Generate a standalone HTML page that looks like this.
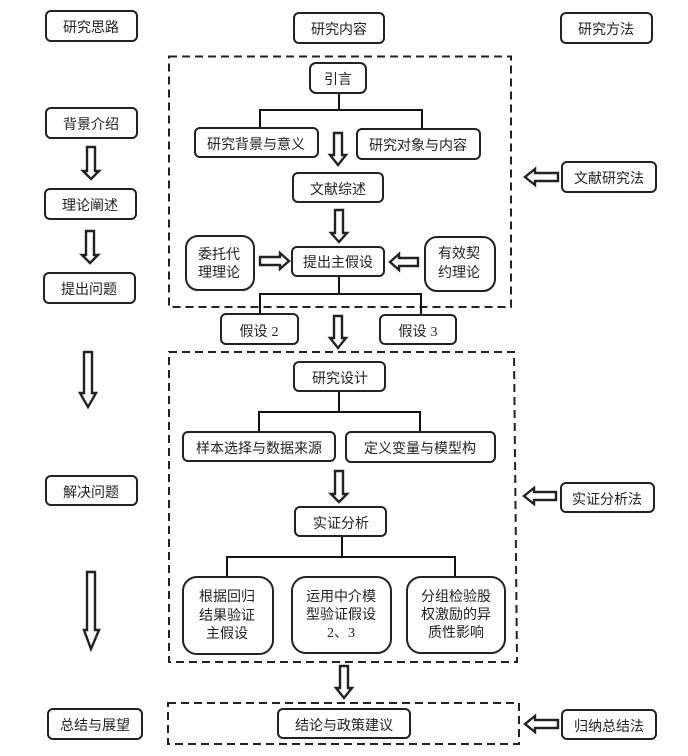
<!DOCTYPE html>
<html lang="zh">
<head>
<meta charset="utf-8">
<style>
html,body{margin:0;padding:0;background:#fff}
svg{display:block}
text{font-family:"Liberation Sans","Noto Sans CJK SC",sans-serif;font-size:14px;fill:#222;text-anchor:middle}
.s{font-family:"Liberation Serif","Noto Sans CJK SC",serif}
.b{fill:#fff;stroke:#222;stroke-width:2}
.c{fill:none;stroke:#111;stroke-width:2}
.d{fill:none;stroke:#222;stroke-width:2;stroke-dasharray:8 5}
.a{fill:#fff;stroke:#222;stroke-width:2.4;stroke-linejoin:miter}
</style>
</head>
<body>
<svg width="688" height="756" viewBox="0 0 688 756" xmlns="http://www.w3.org/2000/svg">
<rect width="688" height="756" fill="#fff"/>

<!-- dashed containers -->
<path class="d" d="M169 56.500H511V307H169Z"/>
<path class="d" d="M169 352H514L517 662H169Z"/>
<path class="d" d="M168 703H519V744H168Z"/>

<!-- connectors -->
<path class="c" d="M339 93V110M260 128V110H422V129"/>
<path class="c" d="M339 276V294M260 314V294H421V315"/>
<path class="c" d="M339 391V412M259 432V412H420V432"/>
<path class="c" d="M342 536V557M227 577V557H455V577"/>

<!-- left column -->
<rect class="b" x="46" y="11" width="91" height="30" rx="5"/><text x="91" y="32">研究思路</text>
<rect class="b" x="46" y="108" width="91" height="30" rx="5"/><text x="91" y="129">背景介绍</text>
<rect class="b" x="45" y="189" width="91" height="30" rx="5"/><text x="90" y="210">理论阐述</text>
<rect class="b" x="44" y="273" width="91" height="30" rx="5"/><text x="89" y="294">提出问题</text>
<rect class="b" x="46" y="476" width="91" height="29" rx="5"/><text x="91" y="497">解决问题</text>
<rect class="b" x="48" y="709" width="94" height="30" rx="5"/><text x="95" y="730">总结与展望</text>

<!-- center column -->
<rect class="b" x="294" y="13" width="90" height="30" rx="5"/><text x="339" y="34">研究内容</text>
<rect class="b" x="310" y="63" width="56" height="30" rx="6"/><text x="338" y="84">引言</text>
<rect class="b" x="195" y="128" width="123" height="29" rx="5"/><text x="256" y="149">研究背景与意义</text>
<rect class="b" x="357" y="129" width="123" height="30" rx="5"/><text x="418" y="150">研究对象与内容</text>
<rect class="b" x="293" y="173" width="90" height="29" rx="5"/><text x="338" y="194">文献综述</text>
<rect class="b" x="186" y="236" width="68" height="54" rx="12"/><text x="219" y="259">委托代</text><text x="219" y="277">理理论</text>
<rect class="b" x="292" y="247" width="92" height="29" rx="5"/><text x="338" y="267">提出主假设</text>
<rect class="b" x="425" y="237" width="70" height="54" rx="12"/><text x="459" y="258">有效契</text><text x="459" y="277">约理论</text>
<rect class="b" x="221" y="314" width="77" height="30" rx="5"/><text x="259" y="336">假设 <tspan class="s">2</tspan></text>
<rect class="b" x="380" y="315" width="76" height="29" rx="5"/><text x="418" y="336">假设 <tspan class="s">3</tspan></text>
<rect class="b" x="294" y="362" width="91" height="29" rx="5"/><text x="340" y="383">研究设计</text>
<rect class="b" x="183" y="432" width="152" height="29" rx="5"/><text x="259" y="453">样本选择与数据来源</text>
<rect class="b" x="346" y="432" width="149" height="30" rx="5"/><text x="420" y="453">定义变量与模型构</text>
<rect class="b" x="295" y="507" width="91" height="29" rx="5"/><text x="341" y="528">实证分析</text>
<rect class="b" x="183" y="577" width="90" height="77" rx="14"/>
<text x="227" y="601">根据回归</text><text x="227" y="620">结果验证</text><text x="227" y="638">主假设</text>
<rect class="b" x="292" y="577" width="99" height="76" rx="14"/>
<text x="341" y="601">运用中介模</text><text x="341" y="619">型验证假设</text><text x="341" y="637" class="s">2、3</text>
<rect class="b" x="407" y="577" width="98" height="76" rx="14"/>
<text x="456" y="601">分组检验股</text><text x="456" y="619">权激励的异</text><text x="456" y="637">质性影响</text>
<rect class="b" x="278" y="709" width="132" height="29" rx="5"/><text x="344" y="730">结论与政策建议</text>

<!-- right column -->
<rect class="b" x="561" y="13" width="91" height="30" rx="5"/><text x="606" y="34">研究方法</text>
<rect class="b" x="562" y="162" width="94" height="30" rx="5"/><text x="609" y="183">文献研究法</text>
<rect class="b" x="561" y="483" width="93" height="29" rx="5"/><text x="607" y="504">实证分析法</text>
<rect class="b" x="562" y="710" width="94" height="29" rx="5"/><text x="609" y="731">归纳总结法</text>

<!-- down block arrows -->
<path class="a" d="M87 147H95V171H99L91 179L83 171H87Z"/>
<path class="a" d="M86 231H94V255H98L90 263L82 255H86Z"/>
<path class="a" d="M84 352H92V393H96L88 407L80 393H84Z"/>
<path class="a" d="M87 572H95V630H99L91 649L84 630H87Z"/>
<path class="a" d="M334 133H342V155H346L338 165L330 155H334Z"/>
<path class="a" d="M335 210H343V233H347L339 242L331 233H335Z"/>
<path class="a" d="M334 316H342V338H346L338 348L330 338H334Z"/>
<path class="a" d="M335 471H343V494H347L339 502L331 494H335Z"/>
<path class="a" d="M340 666H348V688H352L344 698L336 688H340Z"/>

<!-- horizontal block arrows -->
<path class="a" d="M260 257H280V253L289 261L280 269V265H260Z"/>
<path class="a" d="M418 258H399V254L390 262L399 270V266H418Z"/>
<path class="a" d="M558 173H535V169L525 177L535 185V181H558Z"/>
<path class="a" d="M556 492H534V488L524 496L534 504V500H556Z"/>
<path class="a" d="M558 720H535V716L525 724L535 732V728H558Z"/>
</svg>
</body>
</html>
